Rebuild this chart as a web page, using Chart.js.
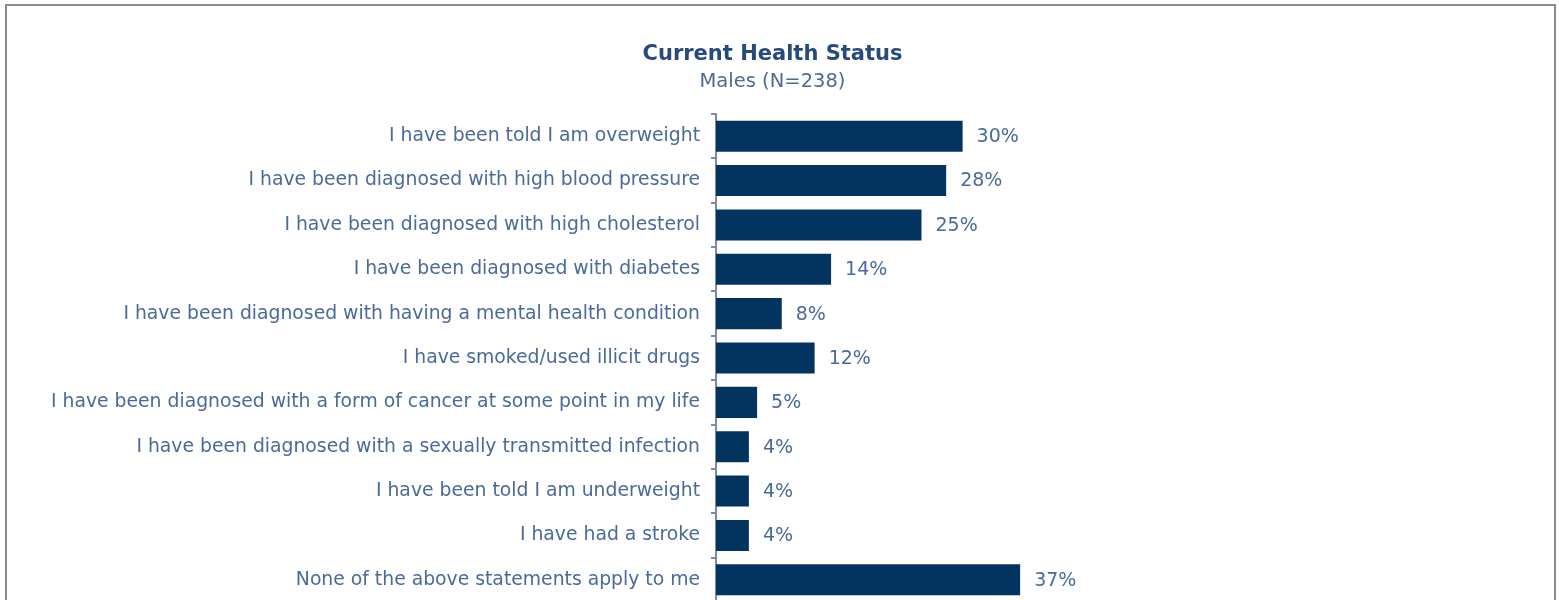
<!doctype html>
<html lang="en">
<head>
<meta charset="UTF-8">
<title>Current Health Status</title>
<script src="https://cdn.jsdelivr.net/npm/chart.js"></script>
<style>
  html, body { margin: 0; padding: 0; background: #fff; overflow: hidden; width: 1559px; height: 600px; }
  .frame { position: absolute; left: 5px; top: 4px; width: 1547px; height: 640px; border: 2px solid #8c8c8c; background: #fff; }
  .frame canvas { position: absolute; left: 0; top: 0; }
</style>
</head>
<body>
<div class="frame">
  <canvas id="chart" width="1547" height="620"></canvas>
</div>
<script>
// data
const categories = [
  "I have been told I am overweight",
  "I have been diagnosed with high blood pressure",
  "I have been diagnosed with high cholesterol",
  "I have been diagnosed with diabetes",
  "I have been diagnosed with having a mental health condition",
  "I have smoked/used illicit drugs",
  "I have been diagnosed with a form of cancer at some point in my life",
  "I have been diagnosed with a sexually transmitted infection",
  "I have been told I am underweight",
  "I have had a stroke",
  "None of the above statements apply to me"
];
const malesPct = [30, 28, 25, 14, 8, 12, 5, 4, 4, 4, 37];

const chartTitle = "Current Health Status";
const chartSubtitle = "Males (N=238)";

const fontFamily = "'DejaVu Sans', sans-serif";
const textBlue = "#4a6a9a";
const axisGrey = "#7f89a6";

// percentage labels at the end of each bar
const valueLabels = {
  id: "valueLabels",
  afterDatasetsDraw(chart) {
    const ctx = chart.ctx;
    const meta = chart.getDatasetMeta(0);
    ctx.save();
    ctx.font = "19px " + fontFamily;
    ctx.fillStyle = textBlue;
    ctx.textAlign = "left";
    ctx.textBaseline = "middle";
    meta.data.forEach((bar, i) => {
      ctx.fillText(malesPct[i] + "%", bar.x + 14, bar.y + 1);
    });
    ctx.restore();
  }
};

new Chart(document.getElementById("chart"), {
  type: "bar",
  data: {
    labels: categories,
    datasets: [{
      data: malesPct,
      backgroundColor: "#03335f",
      borderWidth: 0,
      barPercentage: 0.7,
      categoryPercentage: 1
    }]
  },
  options: {
    indexAxis: "y",
    responsive: false,
    animation: false,
    layout: { padding: { top: 0, right: 16, bottom: 24, left: 0 } },
    scales: {
      x: { display: false, min: 0, max: 100 },
      y: {
        afterFit(scale) { scale.width = 709; },
        border: { display: true, color: axisGrey, width: 2 },
        grid: { display: true, drawOnChartArea: false, drawTicks: true, tickLength: 5, color: axisGrey, lineWidth: 2, offset: true },
        ticks: { color: textBlue, padding: 11, autoSkip: false, font: { family: fontFamily, size: 18.8 } }
      }
    },
    plugins: {
      legend: { display: false },
      tooltip: { enabled: false },
      title: {
        display: true,
        text: chartTitle,
        color: "#264a7d",
        font: { family: fontFamily, size: 21, weight: "bold" },
        padding: { top: 36.4, bottom: 0 }
      },
      subtitle: {
        display: true,
        text: chartSubtitle,
        color: "#4f6a92",
        font: { family: fontFamily, size: 19.5 },
        padding: { top: 2.7, bottom: 20.3 }
      }
    }
  },
  plugins: [valueLabels]
});
</script>
</body>
</html>
